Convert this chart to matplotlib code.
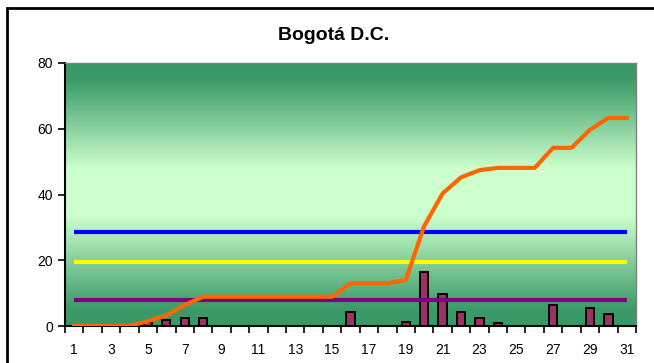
import numpy as np
import matplotlib.pyplot as plt
from matplotlib.colors import LinearSegmentedColormap
from matplotlib.patches import Rectangle

plt.rcParams['font.family'] = ['Liberation Sans', 'DejaVu Sans']

dias = np.arange(1, 32)
casos = [0, 0, 0, 0, 1.2, 1.8, 2.5, 2.5, 0, 0, 0, 0, 0, 0, 0, 4.4, 0, 0, 1.3, 16.5,
         9.8, 4.4, 2.5, 0.8, 0, 0, 6.3, 0, 5.6, 3.8, 0]
acumulado = [0, 0, 0, 0, 1.5, 3.2, 6.4, 8.9, 8.9, 8.9, 8.9, 8.9, 8.9, 8.9, 8.9, 13, 13,
             13, 14, 30.4, 40.3, 45.2, 47.4, 48.1, 48.1, 48.1, 54.2, 54.2, 59.7, 63.3, 63.3]
nivel_azul = 28.7
nivel_amarillo = 19.6
nivel_morado = 8.0

fig = plt.figure(figsize=(6.54, 3.63), dpi=100)
ax = fig.add_axes([65 / 654, 1 - 326 / 363, 571 / 654, 263 / 363])

# fondo degradado (oscuro arriba y abajo, claro al centro)
cmap = LinearSegmentedColormap.from_list(
    'g', [(0, '#389966'), (0.06, '#3a9a68'), (0.4, '#ccffcc'), (0.58, '#ccffcc'),
          (0.94, '#3a9a68'), (1, '#389966')])
grad = np.linspace(0, 1, 256).reshape(-1, 1)
ax.imshow(grad, cmap=cmap, aspect='auto', extent=[0.5, 31.5, 0, 80], zorder=0)

ax.bar(dias, casos, width=0.45, color='#993366', edgecolor='black', linewidth=1.4, zorder=3)
ax.plot([1, 31], [nivel_azul] * 2, color='#0000ff', lw=3, zorder=4, solid_capstyle='butt')
ax.plot([1, 31], [nivel_amarillo] * 2, color='#ffff00', lw=3, zorder=4, solid_capstyle='butt')
ax.plot([1, 31], [nivel_morado] * 2, color='#800080', lw=3, zorder=4, solid_capstyle='butt')
ax.plot(dias, acumulado, color='#ff6600', lw=3, zorder=5)

ax.set_xlim(0.5, 31.5)
ax.set_ylim(0, 80)
ax.set_yticks([0, 20, 40, 60, 80])
ax.set_xticks(dias[::2])
ax.set_xticks(np.arange(0.5, 32, 1), minor=True)
ax.tick_params(axis='x', which='major', length=0, pad=12, labelsize=10)
ax.tick_params(axis='x', which='minor', length=5, width=1.2, direction='out')
ax.tick_params(axis='y', length=5, width=1.2, labelsize=10)

for s in ['left', 'bottom']:
    ax.spines[s].set_linewidth(1.5)
for s in ['top', 'right']:
    ax.spines[s].set_color('#808080')
    ax.spines[s].set_linewidth(1)

fig.text(334 / 654, 1 - 36 / 363, 'Bogotá D.C.', ha='center', va='center',
         fontsize=14, fontweight='bold')

fig.patches.append(Rectangle((7 / 654, -0.05), 1.0, 1 - 8 / 363 + 0.05,
                             transform=fig.transFigure, fill=False,
                             edgecolor='black', linewidth=2))

fig.savefig('out.png', dpi=100)
